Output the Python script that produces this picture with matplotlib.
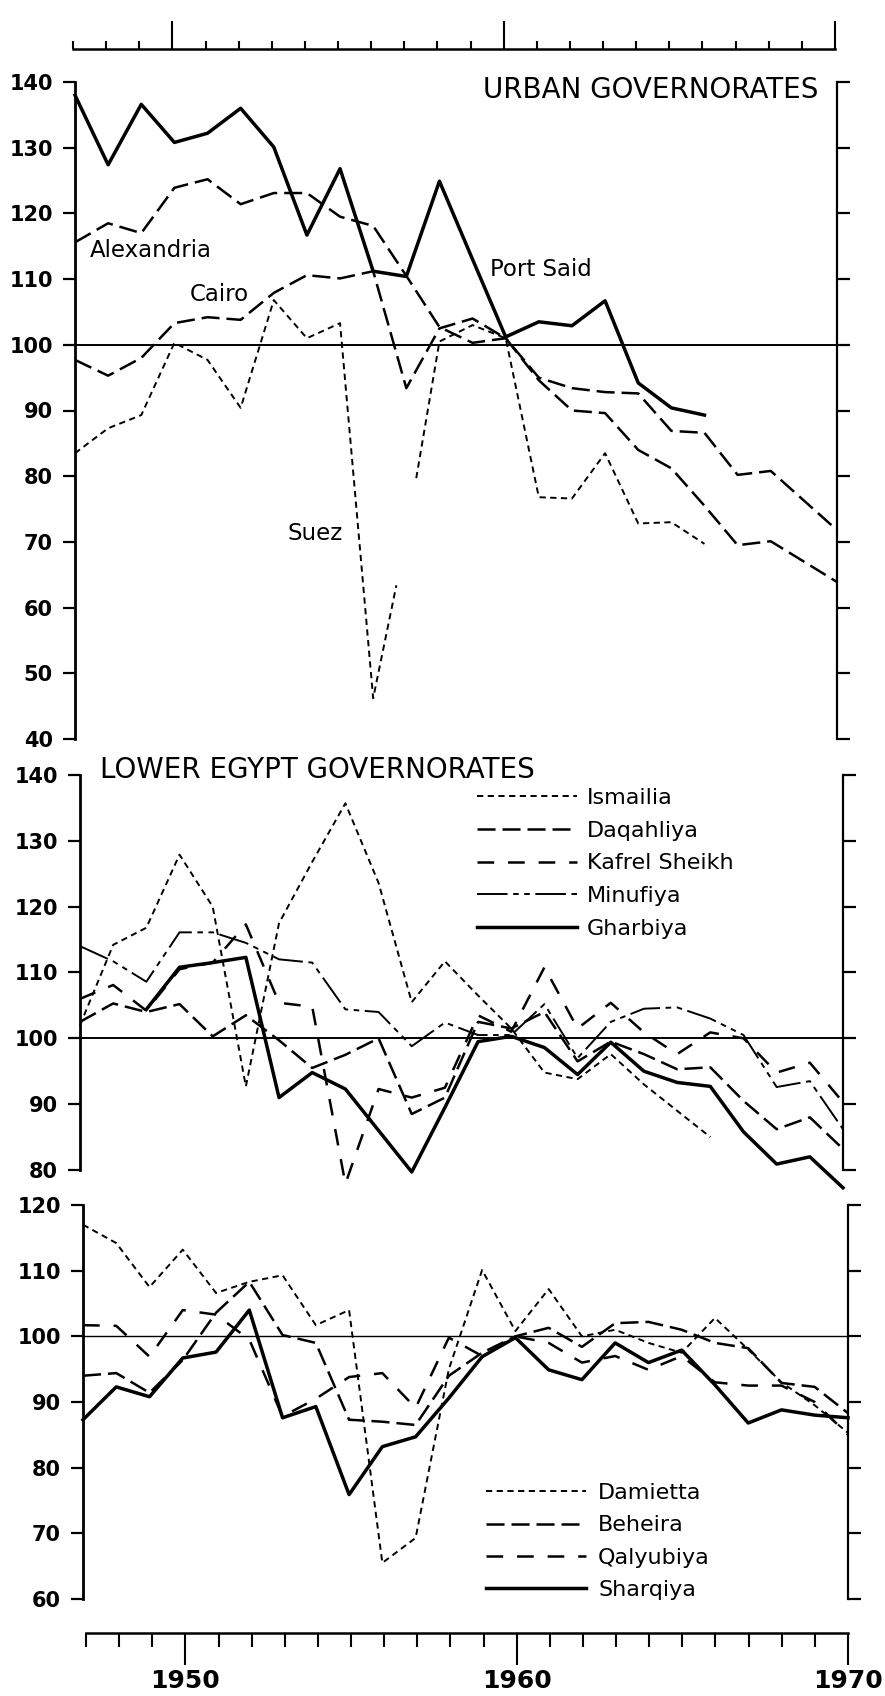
import numpy as np
import matplotlib.pyplot as plt
from matplotlib.ticker import MultipleLocator, FixedLocator

plt.rcParams['font.family'] = ['DejaVu Sans']
plt.rcParams['lines.scale_dashes'] = False

W, H = 885, 1696

years = list(range(1947, 1971))

# ---- Urban governorates
port_said_years = list(range(1947, 1967))
port_said = [138.0, 127.4, 136.6, 130.8, 132.2, 136.0, 130.1, 116.7, 126.8, 111.2,
             110.4, 124.9, 113.0, 101.2, 103.5, 102.9, 106.7, 94.2, 90.4, 89.3]
alexandria = [115.6, 118.5, 117.0, 123.9, 125.2, 121.4, 123.1, 123.1, 119.5, 118.1,
              110.5, 102.7, 100.3, 101.0, 95.0, 93.4, 92.8, 92.6, 86.9, 86.6,
              80.2, 80.8, 76.3, 71.8]
cairo = [97.7, 95.3, 98.0, 103.3, 104.2, 103.8, 107.9, 110.6, 110.1, 111.2,
         93.4, 102.5, 104.0, 101.0, 94.6, 90.0, 89.6, 84.0, 81.2, 75.5,
         69.5, 70.1, 67.0, 63.9]
suez_years = [1947, 1948, 1949, 1950, 1951, 1952, 1953, 1954, 1955, 1956, 1956.7,
              1957, 1957.3, 1958, 1959, 1960, 1961, 1962, 1963, 1964, 1965, 1966]
suez = [83.5, 87.3, 89.3, 100.3, 97.7, 90.4, 106.8, 101.0, 103.3, 46.2, 63.4,
        np.nan, 79.7, 100.5, 103.0, 101.0, 76.8, 76.6, 83.5, 72.8, 73.0, 69.7]

# ---- Lower Egypt governorates
ismailia_years = list(range(1947, 1967))
ismailia = [102.0, 114.2, 116.8, 127.9, 120.0, 92.7, 117.5, 126.8, 135.7, 123.6,
            105.5, 111.7, 106.5, 101.5, 94.8, 93.8, 97.6, 93.0, 89.0, 85.0]
daqahliya = [102.5, 105.3, 104.0, 105.2, 100.3, 103.5, 99.7, 95.5, 97.5, 100.0,
             88.5, 91.0, 102.5, 101.5, 104.0, 96.5, 99.5, 97.6, 95.3, 95.6,
             90.5, 86.2, 88.0, 83.2]
kafr_el_sheikh = [106.0, 108.1, 104.2, 110.5, 111.5, 117.3, 105.4, 104.8, 77.9, 92.3,
                  91.0, 92.5, 103.5, 101.0, 110.8, 101.5, 105.4, 100.9, 97.6, 100.9,
                  100.0, 94.8, 96.3, 90.3]
minufiya = [114.0, 111.7, 108.6, 116.1, 116.1, 114.5, 112.0, 111.5, 104.4, 104.0,
            98.8, 102.4, 100.5, 100.5, 105.2, 97.0, 102.5, 104.5, 104.7, 103.0,
            100.5, 92.6, 93.5, 86.2]
gharbiya_years = list(range(1949, 1971))
gharbiya = [104.4, 110.8, 111.5, 112.3, 91.0, 94.8, 92.3, 86.0, 79.7, 89.5,
            99.5, 100.3, 98.6, 94.5, 99.4, 95.0, 93.3, 92.7, 85.8, 80.9, 82.0, 77.3]

# ---- third panel
damietta = [117.0, 114.2, 107.5, 113.2, 106.6, 108.3, 109.3, 101.7, 104.0, 65.5,
            69.3, 95.0, 110.1, 100.8, 107.2, 100.0, 101.0, 99.0, 97.5, 102.8,
            98.0, 93.0, 89.5, 85.3]
beheira = [94.0, 94.4, 91.4, 96.4, 103.6, 108.3, 100.2, 99.0, 87.3, 87.0,
           86.5, 94.0, 97.5, 100.0, 101.3, 98.4, 102.0, 102.2, 101.0, 99.0,
           98.2, 92.9, 92.3, 88.3]
qalyubiya = [101.7, 101.6, 96.9, 104.0, 103.3, 99.5, 87.8, 90.5, 93.8, 94.4,
             89.1, 99.8, 97.0, 100.0, 99.0, 96.0, 97.0, 94.9, 97.0, 93.0,
             92.5, 92.5, 90.0, 85.0]
sharqiya = [87.3, 92.3, 90.8, 96.7, 97.6, 104.0, 87.6, 89.3, 75.9, 83.2,
            84.7, 90.6, 96.9, 99.8, 94.9, 93.4, 99.0, 96.0, 97.9, 92.6,
            86.8, 88.8, 88.0, 87.6]

year_ticks = [1950, 1960, 1970]

# line styles (dash lengths in points)
SHORT = dict(color='black', lw=1.4, ls=(0, (4.5, 3.2)))
LONG = dict(color='black', lw=1.8, ls=(0, (13, 5)))
GAPPED = dict(color='black', lw=1.8, ls=(0, (12, 10)))
DASHDOT = dict(color='black', lw=1.4, ls=(0, (22, 4, 4, 4, 4, 4)))
SOLID = dict(color='black', lw=2.5, ls='-')


def fig_box(x0, x1, ytop, ybot):
    return [x0 / W, 1 - ybot / H, (x1 - x0) / W, (ybot - ytop) / H]


def style_panel(ax, lo, hi, line_w=1.4):
    ax.set_xlim(1947, 1970)
    ax.set_ylim(lo, hi)
    ax.patch.set_alpha(0)
    for s in ('top', 'bottom'):
        ax.spines[s].set_visible(False)
    ax.spines['left'].set_linewidth(2.0)
    ax.spines['right'].set_linewidth(1.6)
    ax.set_xticks([])
    ax.yaxis.set_major_locator(MultipleLocator(10))
    ax.tick_params(axis='y', which='major', direction='out', left=True, right=True,
                   labelright=False, length=9, width=1.6, labelsize=15, pad=7)
    for lab in ax.get_yticklabels():
        lab.set_fontweight('bold')
    ax.axhline(100, color='black', lw=line_w, zorder=1)


fig = plt.figure(figsize=(W / 100, H / 100), dpi=100)

# --- top year axis (ticks only)
axt = fig.add_axes(fig_box(73, 835, 20, 49))
axt.set_xlim(1947, 1970)
axt.patch.set_alpha(0)
for s in ('top', 'left', 'right'):
    axt.spines[s].set_visible(False)
axt.spines['bottom'].set_linewidth(1.8)
axt.set_yticks([])
axt.xaxis.set_major_locator(FixedLocator(year_ticks))
axt.xaxis.set_minor_locator(MultipleLocator(1))
axt.tick_params(axis='x', which='major', direction='in', length=20, width=1.5,
                labelbottom=False)
axt.tick_params(axis='x', which='minor', direction='in', length=6, width=1.5)

# --- panel 1: urban
ax1 = fig.add_axes(fig_box(75, 837, 82, 739))
style_panel(ax1, 40, 140)
ax1.plot(port_said_years, port_said, clip_on=False, **SOLID)
ax1.plot(years, alexandria, clip_on=False, **LONG)
ax1.plot(years, cairo, clip_on=False, **LONG)
ax1.plot(suez_years, suez, clip_on=False, **SHORT)
ax1.text(0.975, 0.988, 'URBAN GOVERNORATES', transform=ax1.transAxes,
         ha='right', va='center', fontsize=20)
for name, x, y in (('Alexandria', 1947.45, 114.4), ('Cairo', 1950.47, 107.6),
                   ('Port Said', 1959.53, 111.4), ('Suez', 1953.4, 71.3)):
    ax1.text(x, y, name, ha='left', va='center', fontsize=16.5)

# --- panel 2: lower egypt
ax2 = fig.add_axes(fig_box(80, 843, 775, 1170))
style_panel(ax2, 80, 140)
l_is, = ax2.plot(ismailia_years, ismailia, clip_on=False, **SHORT)
l_dq, = ax2.plot(years, daqahliya, clip_on=False, **LONG)
l_ks, = ax2.plot(years, kafr_el_sheikh, clip_on=False, **GAPPED)
l_mn, = ax2.plot(years, minufiya, clip_on=False, **DASHDOT)
l_gh, = ax2.plot(gharbiya_years, gharbiya, clip_on=False, **SOLID)
ax2.text(0.026, 1.013, 'LOWER EGYPT GOVERNORATES', transform=ax2.transAxes,
         ha='left', va='center', fontsize=20)
ax2.legend([l_is, l_dq, l_ks, l_mn, l_gh],
           ['Ismailia', 'Daqahliya', 'Kafrel Sheikh', 'Minufiya', 'Gharbiya'],
           loc='upper left', bbox_to_anchor=((477 - 80) / 763, 0.967),
           frameon=False, fontsize=16, handlelength=4.5, handletextpad=0.45,
           labelspacing=0.57, borderpad=0, borderaxespad=0)

# --- panel 3
ax3 = fig.add_axes(fig_box(83, 848, 1205, 1599))
style_panel(ax3, 60, 120, line_w=1.0)
l_dm, = ax3.plot(years, damietta, clip_on=False, **SHORT)
l_bh, = ax3.plot(years, beheira, clip_on=False, **LONG)
l_ql, = ax3.plot(years, qalyubiya, clip_on=False, **GAPPED)
l_sh, = ax3.plot(years, sharqiya, clip_on=False, **SOLID)
ax3.legend([l_dm, l_bh, l_ql, l_sh], ['Damietta', 'Beheira', 'Qalyubiya', 'Sharqiya'],
           loc='upper left', bbox_to_anchor=((486 - 83) / 765, 0.294),
           frameon=False, fontsize=16, handlelength=4.5, handletextpad=0.55,
           labelspacing=0.55, borderpad=0, borderaxespad=0)

# --- bottom year axis
axb = fig.add_axes(fig_box(86, 848, 1626, 1633))
axb.set_xlim(1947, 1970)
axb.patch.set_alpha(0)
for s in ('top', 'left', 'right'):
    axb.spines[s].set_visible(False)
axb.spines['bottom'].set_linewidth(1.8)
axb.set_yticks([])
axb.xaxis.set_major_locator(FixedLocator(year_ticks))
axb.xaxis.set_minor_locator(MultipleLocator(1))
axb.tick_params(axis='x', which='major', direction='out', length=23, width=1.5,
                labelsize=18, pad=3)
axb.tick_params(axis='x', which='minor', direction='out', length=10, width=1.5)
for lab in axb.get_xticklabels():
    lab.set_fontweight('bold')

fig.savefig('out.png', dpi=100)
